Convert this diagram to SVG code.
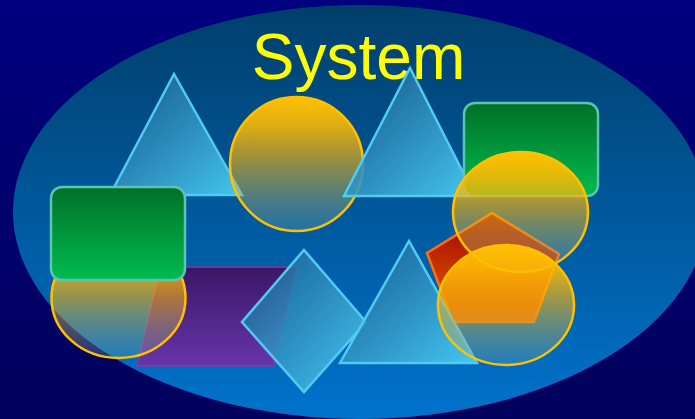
<svg xmlns="http://www.w3.org/2000/svg" width="695" height="419" viewBox="0 0 695 419">
<defs>
  <linearGradient id="bg" x1="0" y1="0" x2="0" y2="1">
    <stop offset="0" stop-color="#000080"/>
    <stop offset="1" stop-color="#00005c"/>
  </linearGradient>
  <linearGradient id="ell" x1="0" y1="0" x2="0" y2="1">
    <stop offset="0" stop-color="#003f6c"/>
    <stop offset="1" stop-color="#0072cc"/>
  </linearGradient>
  <linearGradient id="tri" x1="0" y1="0" x2="1" y2="1">
    <stop offset="0" stop-color="#1a5a90" stop-opacity="0.8"/>
    <stop offset="1" stop-color="#48ccf4" stop-opacity="0.95"/>
  </linearGradient>
  <linearGradient id="circ" x1="0" y1="0" x2="0" y2="1">
    <stop offset="0" stop-color="#ffc000" stop-opacity="1"/>
    <stop offset="0.2" stop-color="#ffbc00" stop-opacity="0.88"/>
    <stop offset="0.5" stop-color="#f8b410" stop-opacity="0.58"/>
    <stop offset="1" stop-color="#70a8b0" stop-opacity="0.3"/>
  </linearGradient>
  <linearGradient id="green" x1="0" y1="0" x2="0" y2="1">
    <stop offset="0" stop-color="#007028"/>
    <stop offset="1" stop-color="#00bc50"/>
  </linearGradient>
  <linearGradient id="pent" x1="0" y1="0" x2="0" y2="1">
    <stop offset="0" stop-color="#a00000"/>
    <stop offset="1" stop-color="#e86800"/>
  </linearGradient>
  <linearGradient id="purp" x1="0" y1="0" x2="0" y2="1">
    <stop offset="0" stop-color="#401060"/>
    <stop offset="1" stop-color="#7030a8"/>
  </linearGradient>
</defs>
<style>
  .tri { fill: url(#tri); stroke: #50ccf4; stroke-width: 2.5; stroke-linejoin: miter; }
  .circ { fill: url(#circ); stroke: #ffc000; stroke-width: 2.5; }
  .rect { fill: url(#green); stroke: #5cc4b0; stroke-width: 2.5; }
  .pent { fill: url(#pent); stroke: #ff7000; stroke-width: 2.5; }
  .par { fill: url(#purp); fill-opacity: 0.92; stroke: #7040a8; stroke-width: 1.5; }
  .title { font-family: "Liberation Sans", Arial, sans-serif; font-size: 64px; fill: #ffff00; }
</style>
<rect x="0" y="0" width="695" height="419" fill="url(#bg)"/>
<ellipse cx="360" cy="212" rx="347" ry="207" fill="url(#ell)"/>
<text class="title" x="358.5" y="79" text-anchor="middle">System</text>
<g id="triangle1"><polygon class="tri" points="174,74 242,195 110,195"/></g>
<g id="circle1"><ellipse class="circ" cx="296.5" cy="164" rx="66.5" ry="67"/></g>
<g id="triangle2"><polygon class="tri" points="410,68 475,196 344,196"/></g>
<g id="rect1"><rect class="rect" x="464" y="103" width="134" height="93" rx="11"/></g>
<g id="pentagon"><polygon class="pent" points="492,213 559,254 534,322 453,322 427,253"/></g>
<g id="circle2"><ellipse class="circ" cx="520.5" cy="212" rx="67.5" ry="60"/></g>
<g id="parallelogram"><polygon class="par" points="160,267 297,267 274,366 137,366"/></g>
<g id="circle4"><ellipse class="circ" cx="118.5" cy="298" rx="67" ry="60"/></g>
<g id="rect2"><rect class="rect" x="51" y="187" width="134" height="93" rx="11"/></g>
<g id="diamond"><polygon class="tri" points="304,250 366,322 304,392 242,322"/></g>
<g id="triangle3"><polygon class="tri" points="409,241 477,363 340,363"/></g>
<g id="circle3"><ellipse class="circ" cx="506" cy="305" rx="68" ry="60"/></g>
<g id="connectors"></g>
</svg>
